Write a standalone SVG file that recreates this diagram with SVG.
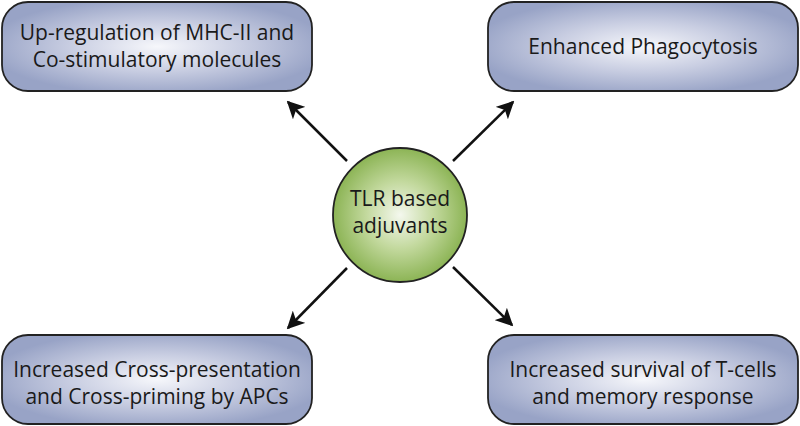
<svg xmlns="http://www.w3.org/2000/svg" width="800" height="426" viewBox="0 0 800 426">
<defs>
<radialGradient id="boxg" cx="50%" cy="50%" r="55%">
<stop offset="0" stop-color="#f6f7fb"/>
<stop offset="0.5" stop-color="#c9cee2"/>
<stop offset="1" stop-color="#98a3c6"/>
</radialGradient>
<radialGradient id="circg" cx="50%" cy="50%" r="50%">
<stop offset="0" stop-color="#f4f8ee"/>
<stop offset="0.5" stop-color="#c3d99e"/>
<stop offset="1" stop-color="#8cb455"/>
</radialGradient>
<marker id="ah" viewBox="0 0 10 10" refX="9" refY="5" markerWidth="7" markerHeight="7" markerUnits="strokeWidth" orient="auto">
<path d="M0,0 L10,5 L0,10 L2.5,5 Z" fill="#111"/>
</marker>
<style>
.box{fill:url(#boxg);stroke:#222;stroke-width:1.8}
.t{font-family:"Open Sans","Liberation Sans",sans-serif;font-size:21px;fill:#1a1a1a;text-anchor:middle}
.c{font-family:"Open Sans","Liberation Sans",sans-serif;font-size:21px;fill:#1a1a1a;text-anchor:middle}
.arr{stroke:#111;stroke-width:2.5;fill:none;marker-end:url(#ah)}
</style>
</defs>
<g id="connectors">
<line class="arr" x1="347" y1="161" x2="288" y2="102"/>
<line class="arr" x1="453" y1="161" x2="513" y2="102"/>
<line class="arr" x1="347" y1="268" x2="288" y2="328"/>
<line class="arr" x1="453" y1="267" x2="512" y2="325"/>
</g>
<g id="n-upreg">
<rect class="box" x="2" y="2" width="310" height="89" rx="26"/>
<text class="t" x="157" y="40">Up-regulation of MHC-II and</text>
<text class="t" x="157" y="67">Co-stimulatory molecules</text>
</g>
<g id="n-phago">
<rect class="box" x="488" y="2" width="310" height="89" rx="26"/>
<text class="t" x="643" y="54">Enhanced Phagocytosis</text>
</g>
<g id="n-cross">
<rect class="box" x="2" y="335" width="310" height="89" rx="26"/>
<text class="t" x="157" y="377">Increased Cross-presentation</text>
<text class="t" x="157" y="404">and Cross-priming by APCs</text>
</g>
<g id="n-tcell">
<rect class="box" x="488" y="335" width="310" height="89" rx="26"/>
<text class="t" x="643" y="377">Increased survival of T-cells</text>
<text class="t" x="643" y="404">and memory response</text>
</g>
<g id="n-tlr">
<circle cx="400" cy="215" r="67" fill="url(#circg)" stroke="#222" stroke-width="1.8"/>
<text class="c" x="400" y="206">TLR based</text>
<text class="c" x="400" y="233">adjuvants</text>
</g>
</svg>
